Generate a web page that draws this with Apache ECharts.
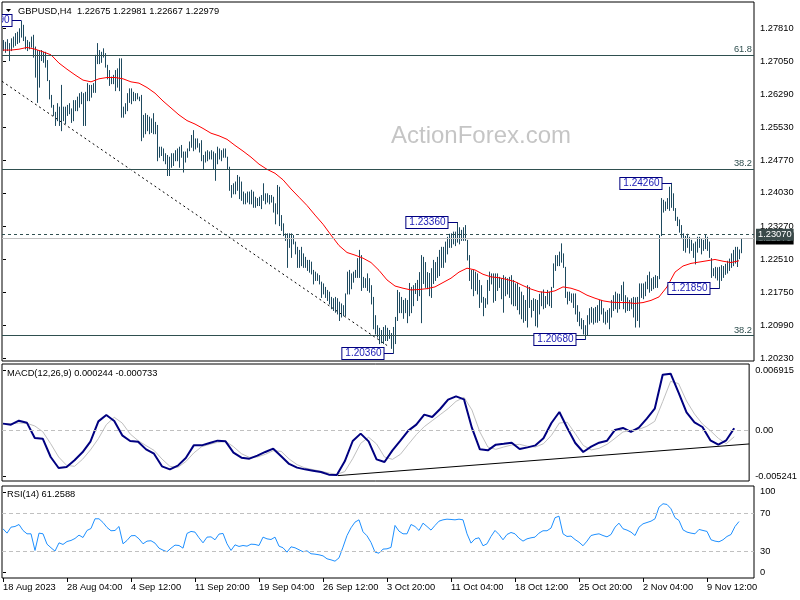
<!DOCTYPE html>
<html><head><meta charset="utf-8">
<script src="https://cdn.jsdelivr.net/npm/echarts@6/dist/echarts.min.js"></script>
<style>html,body{margin:0;padding:0;background:#fff}#c{width:800px;height:600px}</style>
</head><body><div id="c"></div>
<script>
// ---------- DATA ----------
const symbolName = 'GBPUSD,H4';
const lastOHLC = [1.22675, 1.22981, 1.22667, 1.22979];
const macdHeader = [0.000244, -0.000733];
const rsiHeader = 61.2588;

const highs = [
1.2754,1.2750,1.2756,1.2747,1.2758,1.2762,1.2770,1.2773,1.2781,1.2798,
1.2789,1.2762,1.2754,1.2750,1.2762,1.2766,1.2739,1.2731,1.2731,1.2731,
1.2727,1.2727,1.2708,1.2662,1.2628,1.2605,1.2589,1.2609,1.2601,1.2651,
1.2601,1.2601,1.2605,1.2609,1.2597,1.2616,1.2616,1.2624,1.2632,1.2635,
1.2632,1.2635,1.2655,1.2651,1.2651,1.2655,1.2720,1.2747,1.2731,1.2727,
1.2735,1.2724,1.2697,1.2685,1.2670,1.2674,1.2685,1.2689,1.2712,1.2712,
1.2601,1.2609,1.2632,1.2643,1.2643,1.2635,1.2632,1.2632,1.2624,1.2628,
1.2582,1.2586,1.2582,1.2578,1.2574,1.2586,1.2566,1.2559,1.2509,1.2509,
1.2505,1.2494,1.2490,1.2486,1.2494,1.2494,1.2501,1.2505,1.2509,1.2513,
1.2498,1.2498,1.2505,1.2521,1.2536,1.2547,1.2528,1.2528,1.2517,1.2524,
1.2490,1.2498,1.2501,1.2498,1.2501,1.2498,1.2494,1.2509,1.2505,1.2501,
1.2505,1.2505,1.2486,1.2463,1.2421,1.2425,1.2429,1.2444,1.2440,1.2429,
1.2406,1.2402,1.2406,1.2406,1.2410,1.2406,1.2394,1.2391,1.2394,1.2398,
1.2425,1.2402,1.2402,1.2398,1.2398,1.2394,1.2379,1.2421,1.2417,1.2352,
1.2333,1.2310,1.2310,1.2310,1.2310,1.2306,1.2291,1.2279,1.2272,1.2279,
1.2264,1.2256,1.2249,1.2249,1.2245,1.2226,1.2222,1.2218,1.2214,1.2199,
1.2195,1.2187,1.2180,1.2176,1.2164,1.2161,1.2164,1.2161,1.2153,1.2149,
1.2145,1.2172,1.2222,1.2226,1.2218,1.2222,1.2226,1.2253,1.2272,1.2260,
1.2210,1.2207,1.2218,1.2207,1.2191,1.2164,1.2122,1.2099,1.2093,1.2088,
1.2095,1.2099,1.2093,1.2088,1.2081,1.2095,1.2118,1.2180,1.2175,1.2164,
1.2157,1.2161,1.2157,1.2196,1.2187,1.2191,1.2196,1.2203,1.2221,1.2260,
1.2256,1.2244,1.2221,1.2219,1.2230,1.2249,1.2244,1.2256,1.2272,1.2279,
1.2279,1.2291,1.2302,1.2309,1.2310,1.2314,1.2314,1.2336,1.2324,1.2318,
1.2324,1.2329,1.2295,1.2260,1.2226,1.2226,1.2222,1.2218,1.2203,1.2191,
1.2164,1.2161,1.2203,1.2222,1.2218,1.2218,1.2218,1.2218,1.2210,1.2207,
1.2214,1.2210,1.2207,1.2210,1.2214,1.2203,1.2195,1.2197,1.2187,1.2176,
1.2168,1.2157,1.2191,1.2187,1.2157,1.2161,1.2159,1.2157,1.2171,1.2176,
1.2181,1.2166,1.2180,1.2176,1.2187,1.2241,1.2260,1.2260,1.2268,1.2287,
1.2264,1.2233,1.2176,1.2176,1.2172,1.2172,1.2172,1.2145,1.2130,1.2115,
1.2111,1.2099,1.2122,1.2138,1.2141,1.2138,1.2141,1.2145,1.2157,1.2157,
1.2138,1.2130,1.2134,1.2138,1.2157,1.2168,1.2176,1.2172,1.2171,1.2191,
1.2199,1.2168,1.2163,1.2157,1.2161,1.2164,1.2163,1.2164,1.2195,1.2195,
1.2195,1.2199,1.2214,1.2222,1.2207,1.2210,1.2214,1.2212,1.2306,1.2391,
1.2387,1.2383,1.2391,1.2417,1.2426,1.2402,1.2368,1.2348,1.2342,1.2329,
1.2310,1.2304,1.2309,1.2302,1.2295,1.2287,1.2291,1.2302,1.2302,1.2299,
1.2295,1.2306,1.2302,1.2291,1.2253,1.2230,1.2233,1.2232,1.2233,1.2237,
1.2235,1.2240,1.2247,1.2252,1.2264,1.2272,1.2279,1.2279,1.2273,1.22981];

const lows = [
1.2731,1.2727,1.2731,1.2708,1.2731,1.2739,1.2743,1.2747,1.2750,1.2762,
1.2754,1.2735,1.2731,1.2735,1.2739,1.2716,1.2670,1.2612,1.2647,1.2708,
1.2704,1.2693,1.2662,1.2620,1.2601,1.2582,1.2559,1.2570,1.2559,1.2547,
1.2570,1.2563,1.2582,1.2586,1.2566,1.2570,1.2593,1.2593,1.2601,1.2609,
1.2559,1.2559,1.2616,1.2616,1.2624,1.2635,1.2635,1.2701,1.2701,1.2704,
1.2716,1.2693,1.2666,1.2651,1.2655,1.2655,1.2639,1.2647,1.2639,1.2578,
1.2578,1.2586,1.2593,1.2612,1.2609,1.2616,1.2616,1.2620,1.2616,1.2524,
1.2532,1.2540,1.2547,1.2540,1.2543,1.2540,1.2540,1.2478,1.2486,1.2490,
1.2478,1.2471,1.2444,1.2444,1.2463,1.2467,1.2478,1.2478,1.2463,1.2486,
1.2452,1.2475,1.2486,1.2501,1.2509,1.2501,1.2505,1.2509,1.2498,1.2478,
1.2459,1.2475,1.2478,1.2482,1.2482,1.2459,1.2433,1.2471,1.2482,1.2478,
1.2486,1.2486,1.2459,1.2410,1.2394,1.2402,1.2402,1.2410,1.2391,1.2387,
1.2379,1.2379,1.2383,1.2379,1.2379,1.2371,1.2371,1.2375,1.2375,1.2368,
1.2387,1.2379,1.2383,1.2379,1.2383,1.2360,1.2333,1.2356,1.2329,1.2318,
1.2306,1.2295,1.2233,1.2279,1.2256,1.2287,1.2264,1.2233,1.2233,1.2237,
1.2233,1.2233,1.2226,1.2222,1.2218,1.2195,1.2203,1.2203,1.2195,1.2164,
1.2172,1.2164,1.2157,1.2149,1.2138,1.2134,1.2130,1.2126,1.2111,1.2119,
1.2122,1.2122,1.2172,1.2172,1.2184,1.2199,1.2210,1.2210,1.2210,1.2180,
1.2187,1.2187,1.2180,1.2176,1.2149,1.2092,1.2080,1.2073,1.2058,1.2060,
1.2058,1.2065,1.2065,1.2070,1.2047,1.2036,1.2058,1.2111,1.2129,1.2129,
1.2116,1.2129,1.2106,1.2122,1.2129,1.2145,1.2173,1.2157,1.2168,1.2106,
1.2196,1.2187,1.2184,1.2168,1.2164,1.2196,1.2203,1.2210,1.2214,1.2233,
1.2233,1.2245,1.2264,1.2279,1.2279,1.2287,1.2283,1.2291,1.2287,1.2295,
1.2295,1.2295,1.2250,1.2203,1.2184,1.2168,1.2180,1.2172,1.2141,1.2153,
1.2122,1.2141,1.2149,1.2180,1.2195,1.2153,1.2157,1.2180,1.2187,1.2161,
1.2130,1.2168,1.2172,1.2164,1.2149,1.2145,1.2145,1.2136,1.2126,1.2115,
1.2107,1.2111,1.2096,1.2141,1.2119,1.2134,1.2099,1.2096,1.2126,1.2145,
1.2138,1.2141,1.2149,1.2145,1.2141,1.2187,1.2226,1.2237,1.2237,1.2245,
1.2233,1.2164,1.2149,1.2157,1.2153,1.2141,1.2126,1.2109,1.2099,1.2092,
1.2080,1.2068,1.2077,1.2103,1.2107,1.2103,1.2107,1.2107,1.2111,1.2126,
1.2107,1.2103,1.2107,1.2092,1.2119,1.2134,1.2138,1.2130,1.2138,1.2157,
1.2138,1.2130,1.2134,1.2134,1.2138,1.2119,1.2096,1.2111,1.2096,1.2164,
1.2161,1.2168,1.2184,1.2176,1.2180,1.2184,1.2187,1.2187,1.2207,1.2306,
1.2360,1.2364,1.2368,1.2364,1.2371,1.2364,1.2341,1.2329,1.2314,1.2302,
1.2272,1.2268,1.2279,1.2266,1.2272,1.2256,1.2241,1.2268,1.2279,1.2264,
1.2272,1.2276,1.2272,1.2256,1.2210,1.2214,1.2209,1.2204,1.2185,1.2203,
1.2210,1.2217,1.2220,1.2226,1.2233,1.2237,1.2243,1.2235,1.2253,1.22667];

// moving average, read every 4 bars
const MA_STEP = 4;
const maValues = [
1.2731,1.2731,1.2733,1.2737,1.2733,1.2727,1.2720,1.2701,1.2687,1.2674,
1.2662,1.2658,1.2665,1.2668,1.2668,1.2665,1.2658,1.2655,1.2645,1.2632,
1.2614,1.2598,1.2582,1.2569,1.2561,1.2551,1.2540,1.2534,1.2526,1.2512,
1.2499,1.2485,1.2469,1.2457,1.2448,1.2433,1.2412,1.2393,1.2374,1.2352,
1.2331,1.2306,1.2282,1.2266,1.2260,1.2253,1.2243,1.2225,1.2203,1.2189,
1.2184,1.2180,1.2181,1.2183,1.2187,1.2197,1.2207,1.2221,1.2230,1.2226,
1.2216,1.2210,1.2208,1.2204,1.2199,1.2190,1.2182,1.2176,1.2174,1.2178,
1.2187,1.2184,1.2178,1.2168,1.2161,1.2155,1.2152,1.2151,1.2151,1.2149,
1.2151,1.2156,1.2164,1.2187,1.2221,1.2235,1.2241,1.2244,1.2247,1.2250,
1.2246,1.2243,1.2247];

// MACD main and signal, read every 4 bars
const MACD_STEP = 4;
const macdValues = [
0.00078,0.00066,0.00112,0.00089,-0.00087,-0.00095,-0.00306,-0.00432,-0.00421,-0.00344,
-0.00252,-0.00130,0.00104,0.00177,0.00108,-0.00057,-0.00122,-0.00130,-0.00218,-0.00268,
-0.00413,-0.00448,-0.00405,-0.00317,-0.00172,-0.00172,-0.00145,-0.00118,-0.00126,-0.00256,
-0.00314,-0.00325,-0.00290,-0.00248,-0.00210,-0.00298,-0.00386,-0.00428,-0.00448,-0.00463,
-0.00478,-0.00509,-0.00513,-0.00356,-0.00122,-0.00037,-0.00126,-0.00333,-0.00363,-0.00229,
-0.00118,-0.00003,0.00066,0.00181,0.00154,0.00246,0.00354,0.00392,0.00357,0.00028,
-0.00218,-0.00229,-0.00164,-0.00153,-0.00141,-0.00214,-0.00195,-0.00172,-0.00091,0.00085,
0.00212,0.00028,-0.00145,-0.00248,-0.00187,-0.00141,-0.00118,0.00005,0.00028,-0.00018,
0.00032,0.00135,0.00250,0.00641,0.00652,0.00434,0.00208,0.00093,0.00039,-0.00114,
-0.00164,-0.00114,0.00024];
const signalValues = [
0.00078,0.00078,0.00085,0.00082,0.00051,-0.00014,-0.00153,-0.00306,-0.00402,-0.00413,
-0.00333,-0.00225,-0.00095,0.00066,0.00150,0.00085,-0.00041,-0.00118,-0.00175,-0.00229,
-0.00329,-0.00413,-0.00425,-0.00359,-0.00260,-0.00187,-0.00160,-0.00137,-0.00126,-0.00187,
-0.00268,-0.00310,-0.00306,-0.00275,-0.00233,-0.00241,-0.00329,-0.00394,-0.00432,-0.00451,
-0.00470,-0.00490,-0.00505,-0.00474,-0.00325,-0.00149,-0.00079,-0.00156,-0.00306,-0.00333,
-0.00275,-0.00160,-0.00049,0.00043,0.00112,0.00181,0.00250,0.00334,0.00380,0.00235,
-0.00018,-0.00191,-0.00218,-0.00191,-0.00168,-0.00160,-0.00183,-0.00191,-0.00153,-0.00057,
0.00085,0.00093,-0.00037,-0.00172,-0.00225,-0.00206,-0.00160,-0.00091,-0.00018,0.00001,
0.00012,0.00047,0.00104,0.00331,0.00564,0.00538,0.00338,0.00189,0.00074,-0.00003,
-0.00091,-0.00153,-0.00073];

// RSI, read every 2 bars
const RSI_STEP = 2;
const rsiValues = [
53.7,49.1,55.4,56.1,58.2,51.9,48.4,48.4,30.9,49.1,
48.4,37.5,33.7,30.2,38.9,37.2,40.3,41.4,43.5,47.0,
44.5,51.9,54.0,64.2,64.2,60.3,55.1,51.6,51.9,56.1,
37.9,41.4,46.3,46.6,43.1,37.9,40.7,41.1,38.6,33.3,
31.2,29.5,33.3,36.5,36.1,33.3,48.8,50.9,50.2,44.2,
38.9,44.9,45.2,42.1,48.1,48.8,37.9,30.9,36.8,35.1,
36.1,35.4,37.5,37.2,36.1,44.9,43.1,42.4,44.9,35.4,
33.7,29.1,34.7,33.7,31.6,29.5,30.5,27.4,27.0,26.3,
25.2,22.1,21.0,19.6,23.1,34.4,46.6,54.7,60.7,63.1,
50.5,46.3,39.3,29.1,28.0,32.3,32.6,34.1,57.2,51.2,
48.4,48.4,58.2,56.1,51.9,59.6,56.1,52.3,57.2,61.7,
63.1,63.8,63.5,63.1,63.8,63.1,48.4,38.6,43.1,44.2,
35.8,37.9,45.6,51.9,47.7,42.1,47.7,49.8,48.4,43.8,
40.7,43.1,44.2,44.9,49.1,51.6,51.6,54.4,65.3,67.0,
48.4,45.6,46.0,42.4,39.6,35.8,40.7,46.6,47.7,48.4,
46.6,45.2,47.7,55.4,59.6,53.7,52.3,50.2,46.6,55.4,
58.9,60.3,61.7,64.2,76.5,80.0,79.3,74.7,65.3,62.4,
52.6,50.2,49.1,48.4,53.0,51.9,50.9,42.1,40.7,40.0,
42.1,45.6,47.7,56.1,61.3];

const priceTicks = [1.27810,1.27050,1.26290,1.25530,1.24770,1.24030,1.23270,1.22510,1.21750,1.20990,1.20230];
const macdTicks = [0.006915, 0, -0.005241];
const rsiTickLabels = ['100','70','30','0'];
const rsiTickValues = [92.6, 70, 30, 7.7];
const rsiLevels = [70, 30];
const DATE_STEP = 32;
const dateLabels = ['18 Aug 2023','28 Aug 04:00','4 Sep 12:00','11 Sep 20:00','19 Sep 04:00','26 Sep 12:00',
  '3 Oct 20:00','11 Oct 04:00','18 Oct 12:00','25 Oct 20:00','2 Nov 04:00','9 Nov 12:00'];

const fibLevels = [1.2720, 1.2458, 1.2075];
const fibNames = ['61.8', '38.2', '38.2'];
const resistanceLevel = 1.23070;
const bidPrice = 1.22979;

const swingBars = [9, 195, 227, 291, 334, 358];
const swingPrices = [1.27990, 1.20360, 1.23360, 1.20680, 1.24260, 1.21850];

const priceTrend = [[-0.5, 1.26593], [193, 1.20494]];
const macdTrend = [[168.5, -0.00520], [375.5, -0.00156]];

// ---------- STYLE ----------
const FONT = "'Liberation Sans', Arial, sans-serif";
const FS = 9.3;
const BAR_COLOR = '#1e4a5f';
const LEVEL_COLOR = '#2f4f4f';

const chart = echarts.init(document.getElementById('c'), null, {renderer: 'canvas'});

const gridBase = {left: 2, right: 46, show: true, borderColor: '#000', borderWidth: 1, backgroundColor: 'transparent', containLabel: false};
const X_MIN = -0.5, X_MAX = 375.5;

const dateTickValues = dateLabels.map((_, k) => k * DATE_STEP);

function hiddenX(g) {
  return {type: 'value', gridIndex: g, min: X_MIN, max: X_MAX, show: false};
}

const levelLines = fibLevels.map((v, k) => ({
  yAxis: v,
  lineStyle: {color: LEVEL_COLOR, type: 'solid', width: 1},
  label: {show: true, position: 'insideEndTop', formatter: fibNames[k], color: LEVEL_COLOR,
    fontSize: FS, fontFamily: FONT, distance: [2, 1]}
})).concat([
  {yAxis: bidPrice, lineStyle: {color: '#c0c0c0', type: 'solid', width: 1},
   label: {show: true, position: 'end', distance: 2, formatter: bidPrice.toFixed(5), color: '#fff',
     backgroundColor: '#000', padding: [2, 2, 1, 2], fontSize: FS, fontFamily: FONT}},
  {yAxis: resistanceLevel, lineStyle: {color: LEVEL_COLOR, type: [3, 3], width: 1},
   label: {show: true, position: 'end', distance: 2, formatter: resistanceLevel.toFixed(5), color: '#fff',
     backgroundColor: '#3a4a4a', padding: [2, 2, 1, 2], fontSize: FS, fontFamily: FONT}}
]);

const option = {
  animation: false,
  backgroundColor: '#fff',
  textStyle: {fontFamily: FONT},
  grid: [
    Object.assign({top: 2, height: 359}, gridBase),
    Object.assign({top: 364, height: 117}, gridBase),
    Object.assign({top: 486, height: 92}, gridBase)
  ],
  xAxis: [
    hiddenX(0), hiddenX(1),
    {
      type: 'value', gridIndex: 2, min: X_MIN, max: X_MAX, position: 'bottom',
      axisLine: {show: false},
      splitLine: {show: false},
      axisTick: {show: true, customValues: dateTickValues, length: 4, lineStyle: {color: '#000'}},
      axisLabel: {
        customValues: dateTickValues, align: 'left', margin: 5,
        color: '#000', fontSize: FS, fontFamily: FONT,
        formatter: v => dateLabels[Math.round(v / DATE_STEP)] || ''
      }
    }
  ],
  yAxis: [
    {
      type: 'value', gridIndex: 0, position: 'right', min: 1.20168, max: 1.28414,
      axisLine: {show: false}, splitLine: {show: false},
      axisTick: {show: true, customValues: priceTicks, length: 3, lineStyle: {color: '#000'}},
      axisLabel: {customValues: priceTicks, margin: 6, color: '#000', fontSize: FS, fontFamily: FONT,
        formatter: v => v.toFixed(5)}
    },
    {
      type: 'value', gridIndex: 1, position: 'right', min: -0.005819, max: 0.007636,
      axisLine: {show: false}, splitLine: {show: false},
      axisTick: {show: true, customValues: macdTicks, length: 3, lineStyle: {color: '#000'}},
      axisLabel: {customValues: macdTicks, margin: 6, color: '#000', fontSize: FS, fontFamily: FONT,
        formatter: v => (v === 0 ? '0.00' : v.toFixed(6))}
    },
    {
      type: 'value', gridIndex: 2, position: 'right', min: 1.9, max: 98.7,
      axisLine: {show: false}, splitLine: {show: false},
      axisTick: {show: true, customValues: rsiTickValues, length: 3, lineStyle: {color: '#000'}},
      axisLabel: {customValues: rsiTickValues, margin: 6, color: '#000', fontSize: FS, fontFamily: FONT,
        formatter: v => {
          const k = rsiTickValues.findIndex(t => Math.abs(t - v) < 1e-6);
          return k >= 0 ? rsiTickLabels[k] : '';
        }}
    }
  ],
  graphic: [
    {type: 'text', z: 0, x: 481, y: 136,
     style: {text: 'ActionForex.com', font: '24px ' + FONT, fill: 'rgba(150,150,150,0.55)', align: 'center', verticalAlign: 'middle'}},
    {type: 'polygon', z: 50, shape: {points: [[6, 9], [11, 9], [8.5, 12]]}, style: {fill: '#000'}},
    {type: 'text', z: 50, x: 18, y: 11,
     style: {text: symbolName + '  ' + lastOHLC.map(v => v.toFixed(5)).join(' '), font: FS + 'px ' + FONT, fill: '#000', verticalAlign: 'middle'}},
    {type: 'text', z: 50, x: 7, y: 373,
     style: {text: 'MACD(12,26,9) ' + macdHeader[0].toFixed(6) + ' ' + macdHeader[1].toFixed(6), font: FS + 'px ' + FONT, fill: '#000', verticalAlign: 'middle'}},
    {type: 'text', z: 50, x: 7, y: 494,
     style: {text: 'RSI(14) ' + rsiHeader.toFixed(4), font: FS + 'px ' + FONT, fill: '#000', verticalAlign: 'middle'}}
  ],
  series: [
    // falling dashed trend line
    {
      type: 'line', xAxisIndex: 0, yAxisIndex: 0, data: priceTrend, showSymbol: false, silent: true, z: 2,
      lineStyle: {color: '#000', width: 1, type: [2, 3]}
    },
    // OHLC high-low bars
    {
      type: 'custom', xAxisIndex: 0, yAxisIndex: 0, clip: true, silent: true, z: 3,
      data: highs.map((h, i) => [i, h, lows[i]]),
      encode: {x: 0, y: [1, 2]},
      renderItem: function (params, api) {
        const top = api.coord([api.value(0), api.value(1)]);
        const bot = api.coord([api.value(0), api.value(2)]);
        const x = Math.round(top[0]) + 0.5;
        return {type: 'line', shape: {x1: x, y1: top[1], x2: x, y2: bot[1] + 1},
          style: {stroke: BAR_COLOR, lineWidth: 1}};
      }
    },
    // moving average + level lines
    {
      type: 'line', xAxisIndex: 0, yAxisIndex: 0, showSymbol: false, silent: true, z: 4,
      data: maValues.map((v, k) => [k * MA_STEP, v]),
      lineStyle: {color: '#ff0000', width: 1},
      markLine: {silent: true, symbol: ['none', 'none'], animation: false, precision: 5, data: levelLines}
    },
    // swing labels
    {
      type: 'custom', xAxisIndex: 0, yAxisIndex: 0, clip: true, silent: true, z: 6,
      data: swingBars.map((b, k) => [b, swingPrices[k]]),
      renderItem: function (params, api) {
        const p = api.coord([api.value(0), api.value(1)]);
        const x = Math.round(p[0]) + 0.5, y = Math.round(p[1]) + 0.5;
        const gap = 10;
        return {type: 'group', children: [
          {type: 'line', shape: {x1: x - gap, y1: y, x2: x, y2: y}, style: {stroke: '#000080', lineWidth: 1}},
          {type: 'text', x: x - gap, y: y, style: {
            text: Number(api.value(1)).toFixed(5), align: 'right', verticalAlign: 'middle',
            font: '10px ' + FONT, fill: '#1a1ab4', backgroundColor: '#fff',
            borderColor: '#000080', borderWidth: 1, padding: [1, 2, 0, 3]}}
        ]};
      }
    },
    // MACD signal
    {
      type: 'line', xAxisIndex: 1, yAxisIndex: 1, showSymbol: false, silent: true, z: 3,
      data: signalValues.map((v, k) => [k * MACD_STEP, v]),
      lineStyle: {color: '#c0c0c0', width: 1},
      markLine: {silent: true, symbol: ['none', 'none'], label: {show: false}, precision: 6,
        lineStyle: {color: '#c0c0c0', type: [4, 3], width: 1}, data: [{yAxis: 0}]}
    },
    // MACD main
    {
      type: 'line', xAxisIndex: 1, yAxisIndex: 1, showSymbol: false, silent: true, z: 4,
      data: macdValues.map((v, k) => [k * MACD_STEP, v]),
      lineStyle: {color: '#000080', width: 2}
    },
    // MACD trend line
    {
      type: 'line', xAxisIndex: 1, yAxisIndex: 1, showSymbol: false, silent: true, z: 5,
      data: macdTrend, lineStyle: {color: '#000', width: 1}
    },
    // RSI
    {
      type: 'line', xAxisIndex: 2, yAxisIndex: 2, showSymbol: false, silent: true, z: 4,
      data: rsiValues.map((v, k) => [k * RSI_STEP, v]),
      lineStyle: {color: '#1e90ff', width: 1},
      markLine: {silent: true, symbol: ['none', 'none'], label: {show: false},
        lineStyle: {color: '#c0c0c0', type: [4, 3], width: 1},
        data: rsiLevels.map(v => ({yAxis: v}))}
    }
  ]
};
chart.setOption(option);
</script>
</body></html>
